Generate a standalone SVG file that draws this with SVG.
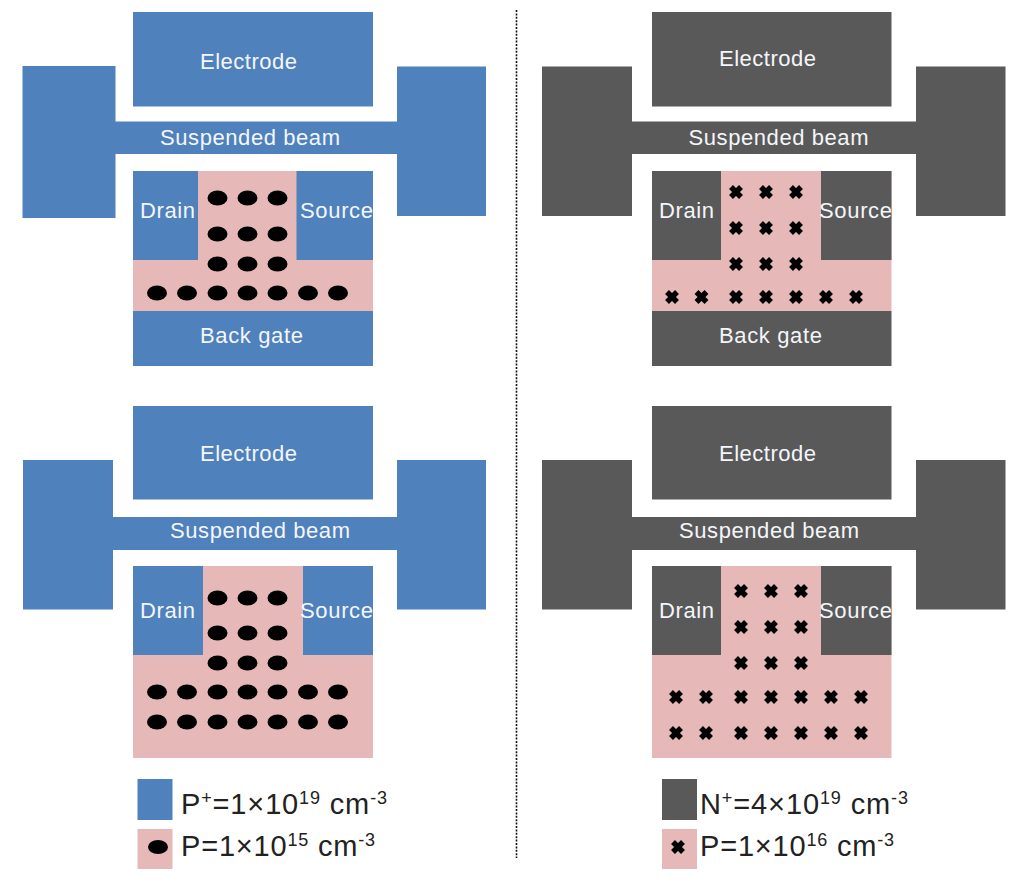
<svg xmlns="http://www.w3.org/2000/svg" xmlns:xlink="http://www.w3.org/1999/xlink" width="1024" height="883" viewBox="0 0 1024 883">
<style>
.b{fill:#4f81bd}.g{fill:#595959}.p{fill:#e6b8b7}
.t{font-family:"Liberation Sans",Arial,sans-serif;font-size:22px;fill:#f4f6fa}
.l{font-family:"Liberation Sans",Arial,sans-serif;font-size:29px;fill:#222}
.s{font-size:18px}
.d{stroke:#111;stroke-width:1.6;stroke-dasharray:2 1.4;fill:none}
</style>
<defs>
<ellipse id="dot" rx="10" ry="7.500" fill="#000"/>
<path id="x" d="M-5-5L5 5M5-5L-5 5" stroke="#000" stroke-width="5.500" fill="none"/>
</defs>
<rect width="1024" height="883" fill="#fff"/>
<g id="connectors"><path class="d" d="M516.500 10V858"/></g>

<g id="p-top">
<rect class="b" x="133" y="12" width="240" height="94.500"/>
<path class="b" d="M22.500 66H115.500V121.500H397V66.500H486V216H397V154H115.500V218H22.500Z"/>
<rect class="p" x="133" y="171" width="240" height="140"/>
<rect class="b" x="133" y="171" width="65" height="89"/>
<rect class="b" x="296.500" y="171" width="76.500" height="89"/>
<rect class="b" x="133" y="311" width="240" height="55"/>
<text class="t" x="200" y="69" textLength="97">Electrode</text>
<text class="t" x="160" y="145" textLength="180">Suspended beam</text>
<text class="t" x="140" y="218" textLength="55">Drain</text>
<text class="t" x="300" y="218" textLength="73">Source</text>
<text class="t" x="200" y="343" textLength="103">Back gate</text>
<use href="#dot" x="217.500" y="198"/><use href="#dot" x="247.500" y="198"/><use href="#dot" x="277.500" y="198"/>
<use href="#dot" x="217.500" y="234"/><use href="#dot" x="247.500" y="234"/><use href="#dot" x="277.500" y="234"/>
<use href="#dot" x="217.500" y="264"/><use href="#dot" x="247.500" y="264"/><use href="#dot" x="277.500" y="264"/>
<use href="#dot" x="157" y="293"/><use href="#dot" x="187" y="293"/><use href="#dot" x="217.500" y="293"/><use href="#dot" x="247.500" y="293"/><use href="#dot" x="277.500" y="293"/><use href="#dot" x="308" y="293"/><use href="#dot" x="338" y="293"/>
</g>

<g id="n-top">
<rect class="g" x="652" y="12" width="239.500" height="94.500"/>
<path class="g" d="M542 66.500H632V121.500H916V66.500H1005.500V216H916V154H632V216H542Z"/>
<rect class="p" x="652" y="171" width="239.500" height="140"/>
<rect class="g" x="652" y="171" width="69" height="89"/>
<rect class="g" x="821" y="171" width="70.500" height="89"/>
<rect class="g" x="652" y="311" width="239.500" height="55"/>
<text class="t" x="719" y="66" textLength="97">Electrode</text>
<text class="t" x="688.500" y="145" textLength="180">Suspended beam</text>
<text class="t" x="659" y="218" textLength="55">Drain</text>
<text class="t" x="819" y="218" textLength="73">Source</text>
<text class="t" x="719" y="343" textLength="103">Back gate</text>
<use href="#x" x="736" y="192"/><use href="#x" x="766" y="192"/><use href="#x" x="796" y="192"/>
<use href="#x" x="736" y="228"/><use href="#x" x="766" y="228"/><use href="#x" x="796" y="228"/>
<use href="#x" x="736" y="264"/><use href="#x" x="766" y="264"/><use href="#x" x="796" y="264"/>
<use href="#x" x="672" y="297"/><use href="#x" x="701.500" y="297"/><use href="#x" x="736" y="297"/><use href="#x" x="766" y="297"/><use href="#x" x="796" y="297"/><use href="#x" x="826" y="297"/><use href="#x" x="856" y="297"/>
</g>

<g id="p-bottom">
<rect class="b" x="133" y="406" width="240" height="93.500"/>
<path class="b" d="M23 460H113V517H397V460H486V609.500H397V550H113V609.500H23Z"/>
<rect class="p" x="133" y="566" width="240" height="192"/>
<rect class="b" x="133" y="566" width="70" height="89"/>
<rect class="b" x="303" y="566" width="70" height="89"/>
<text class="t" x="200" y="461" textLength="97">Electrode</text>
<text class="t" x="170" y="538" textLength="180">Suspended beam</text>
<text class="t" x="140" y="618" textLength="55">Drain</text>
<text class="t" x="300" y="618" textLength="73">Source</text>
<use href="#dot" x="217.500" y="598"/><use href="#dot" x="247.500" y="598"/><use href="#dot" x="277.500" y="598"/>
<use href="#dot" x="217.500" y="633"/><use href="#dot" x="247.500" y="633"/><use href="#dot" x="277.500" y="633"/>
<use href="#dot" x="217.500" y="663"/><use href="#dot" x="247.500" y="663"/><use href="#dot" x="277.500" y="663"/>
<use href="#dot" x="157" y="692"/><use href="#dot" x="187" y="692"/><use href="#dot" x="217.500" y="692"/><use href="#dot" x="247.500" y="692"/><use href="#dot" x="277.500" y="692"/><use href="#dot" x="308" y="692"/><use href="#dot" x="338" y="692"/>
<use href="#dot" x="157" y="722"/><use href="#dot" x="187" y="722"/><use href="#dot" x="217.500" y="722"/><use href="#dot" x="247.500" y="722"/><use href="#dot" x="277.500" y="722"/><use href="#dot" x="308" y="722"/><use href="#dot" x="338" y="722"/>
</g>

<g id="n-bottom">
<rect class="g" x="652" y="406" width="239.500" height="93.500"/>
<path class="g" d="M542 460H632V517H916V460H1005.500V609.500H916V550H632V609.500H542Z"/>
<rect class="p" x="652" y="566" width="239.500" height="192"/>
<rect class="g" x="652" y="566" width="69" height="89"/>
<rect class="g" x="821" y="566" width="70.500" height="89"/>
<text class="t" x="719" y="461" textLength="97">Electrode</text>
<text class="t" x="679" y="538" textLength="180">Suspended beam</text>
<text class="t" x="659" y="618" textLength="55">Drain</text>
<text class="t" x="819" y="618" textLength="73">Source</text>
<use href="#x" x="741" y="591"/><use href="#x" x="771" y="591"/><use href="#x" x="801" y="591"/>
<use href="#x" x="741" y="627"/><use href="#x" x="771" y="627"/><use href="#x" x="801" y="627"/>
<use href="#x" x="741" y="663"/><use href="#x" x="771" y="663"/><use href="#x" x="801" y="663"/>
<use href="#x" x="676" y="697"/><use href="#x" x="706" y="697"/><use href="#x" x="741" y="697"/><use href="#x" x="771" y="697"/><use href="#x" x="801" y="697"/><use href="#x" x="831" y="697"/><use href="#x" x="861" y="697"/>
<use href="#x" x="676" y="733"/><use href="#x" x="706" y="733"/><use href="#x" x="741" y="733"/><use href="#x" x="771" y="733"/><use href="#x" x="801" y="733"/><use href="#x" x="831" y="733"/><use href="#x" x="861" y="733"/>
</g>

<g id="legend-left">
<rect class="b" x="137.500" y="779" width="35" height="41"/>
<text class="l" x="181" y="814" textLength="206">P<tspan class="s" dy="-10">+</tspan><tspan dy="10">=1×10</tspan><tspan class="s" dy="-10">19</tspan><tspan dy="10"> cm</tspan><tspan class="s" dy="-10">-3</tspan></text>
<rect class="p" x="137.500" y="829" width="35" height="40"/>
<ellipse cx="158" cy="847" rx="10" ry="7"/>
<text class="l" x="181" y="856" textLength="194">P=1×10<tspan class="s" dy="-10">15</tspan><tspan dy="10"> cm</tspan><tspan class="s" dy="-10">-3</tspan></text>
</g>

<g id="legend-right">
<rect class="g" x="662" y="779" width="35" height="41"/>
<text class="l" x="700" y="814" textLength="208">N<tspan class="s" dy="-10">+</tspan><tspan dy="10">=4×10</tspan><tspan class="s" dy="-10">19</tspan><tspan dy="10"> cm</tspan><tspan class="s" dy="-10">-3</tspan></text>
<rect class="p" x="662" y="829" width="35" height="40"/>
<use href="#x" x="678" y="847"/>
<text class="l" x="700" y="856" textLength="194">P=1×10<tspan class="s" dy="-10">16</tspan><tspan dy="10"> cm</tspan><tspan class="s" dy="-10">-3</tspan></text>
</g>
</svg>
